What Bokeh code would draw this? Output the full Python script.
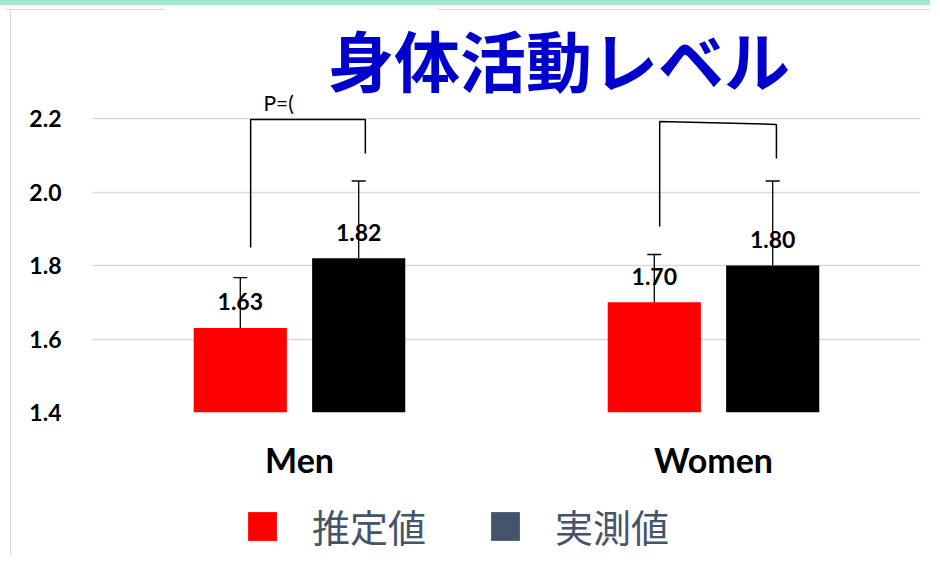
from bokeh.plotting import figure
from bokeh.layouts import column
from bokeh.models import (FactorRange, Range1d, FixedTicker, Whisker, TeeHead, ColumnDataSource,
                          Label, Legend, LegendItem, CustomJSTickFormatter)
from bokeh.transform import dodge
from bokeh.embed import file_html
from bokeh.resources import INLINE
from bokeh.core.properties import value

# ---- data ----
groups = ["Men", "Women"]
series = ["推定値", "実測値"]
estimated = [1.63, 1.70]
estimated_sd = [0.137, 0.13]
measured = [1.82, 1.80]
measured_sd = [0.21, 0.23]
y_ticks = [1.4, 1.6, 1.8, 2.0, 2.2]
title_text = "身体活動レベル"
p_text = "P=("

# bracket annotations (x in category units, y in data units)
br_men_x = [0.382, 0.382, 0.659, 0.659]
br_men_y = [1.849, 2.197, 2.197, 2.105]
br_wom_x = [1.370, 1.370, 1.652, 1.652]
br_wom_y = [1.906, 2.192, 2.184, 2.091]

W, H1, H2 = 930, 495, 61
p = figure(width=W, height=H1, x_range=FactorRange(*groups), y_range=Range1d(1.4, 2.5211),
           output_backend="svg", toolbar_location=None,
           min_border_left=92, min_border_right=10, min_border_top=0, min_border_bottom=83)
p.outline_line_color = None
p.background_fill_color = None
p.border_fill_color = None

OFF = 0.143
BW = 0.225
src = ColumnDataSource(dict(
    g=groups, est=estimated, mea=measured,
    est_hi=[v + s for v, s in zip(estimated, estimated_sd)],
    mea_hi=[v + s for v, s in zip(measured, measured_sd)],
    est_lbl=[f"{v:.2f}" for v in estimated],
    mea_lbl=[f"{v:.2f}" for v in measured],
))

p.vbar(x=dodge("g", -OFF, range=p.x_range), top="est", bottom=1.4, width=BW, source=src,
       fill_color="#FF0000", line_color=None)
p.vbar(x=dodge("g", OFF, range=p.x_range), top="mea", bottom=1.4, width=BW, source=src,
       fill_color="#000000", line_color=None)

for off, lo, hi in [(-OFF, "est", "est_hi"), (OFF, "mea", "mea_hi")]:
    w = Whisker(base=dodge("g", off, range=p.x_range), lower=lo, upper=hi, source=src,
                line_color="black", line_width=1.3,
                upper_head=TeeHead(size=14, line_color="black", line_width=1.3), lower_head=None)
    p.add_layout(w)

lbl_font = value("Lato")
p.text(x=dodge("g", -OFF, range=p.x_range), y="est", text="est_lbl", source=src,
       text_align="center", text_baseline="middle", y_offset=-26,
       text_font=lbl_font, text_font_style="bold", text_font_size="23px", text_color="black")
p.text(x=dodge("g", OFF, range=p.x_range), y="mea", text="mea_lbl", source=src,
       text_align="center", text_baseline="middle", y_offset=-26,
       text_font=lbl_font, text_font_style="bold", text_font_size="23px", text_color="black")

p.line(br_men_x, br_men_y, line_color="black", line_width=1.5)
p.line(br_wom_x, br_wom_y, line_color="black", line_width=1.5)

p.add_layout(Label(x=0.413, y=2.2435, text=p_text, text_font="Lato", text_font_size="21px",
                   text_baseline="middle", text_align="left", text_color="black"))
p.add_layout(Label(x=1.127, y=2.364, text=title_text, text_font="Noto Sans CJK JP",
                   text_font_style="bold", text_font_size="66px", text_color="#0000CC",
                   text_align="center", text_baseline="middle"))

# axes
p.yaxis.ticker = FixedTicker(ticks=y_ticks)
p.yaxis.formatter = CustomJSTickFormatter(code="return tick.toFixed(1);")
p.yaxis.axis_line_color = None
p.yaxis.major_tick_line_color = None
p.yaxis.minor_tick_line_color = None
p.yaxis.major_label_text_font = "Lato"
p.yaxis.major_label_text_font_style = "bold"
p.yaxis.major_label_text_font_size = "23px"
p.yaxis.major_label_text_color = "black"
p.yaxis.major_label_standoff = 25

p.xaxis.axis_line_color = None
p.xaxis.major_tick_line_color = None
p.xaxis.major_label_text_font = "Lato"
p.xaxis.major_label_text_font_style = "bold"
p.xaxis.major_label_text_font_size = "34px"
p.xaxis.major_label_text_color = "black"
p.xaxis.major_label_standoff = 20

p.xgrid.grid_line_color = None
p.ygrid.grid_line_color = "#D9D9D9"
p.ygrid.grid_line_width = 1.5
p.ygrid.ticker = FixedTicker(ticks=y_ticks)

# legend figure (swatch renderers sit outside the visible range)
pl = figure(width=W, height=H2, x_range=Range1d(0, 1), y_range=Range1d(0, 1),
            output_backend="svg", toolbar_location=None,
            x_axis_location=None, y_axis_location=None,
            min_border_left=0, min_border_right=0, min_border_top=0, min_border_bottom=0)
pl.grid.grid_line_color = None
pl.outline_line_color = None
pl.background_fill_color = None
pl.border_fill_color = None
r1 = pl.vbar(x=[-5], top=[-5], bottom=[-6], width=0.1, fill_color="#FF0000", line_color=None)
r2 = pl.vbar(x=[-5], top=[-5], bottom=[-6], width=0.1, fill_color="#44546A", line_color=None)
leg = Legend(items=[LegendItem(label=series[0], renderers=[r1]),
                    LegendItem(label=series[1], renderers=[r2])],
             location=(152, 3), orientation="horizontal",
             glyph_width=36, glyph_height=36, label_standoff=32, spacing=61,
             padding=0, margin=0, border_line_color=None, background_fill_alpha=0,
             label_text_font="Noto Sans CJK JP", label_text_font_size="38px",
             label_text_color="#44546A")
pl.add_layout(leg)

layout = column(p, pl, spacing=0)
layout.styles = {
    "background-color": "white",
    "background-image": ("linear-gradient(#A9E5CB,#A9E5CB), linear-gradient(#D9D9D9,#D9D9D9), "
                         "linear-gradient(#D9D9D9,#D9D9D9), linear-gradient(#D9D9D9,#D9D9D9)"),
    "background-size": "940px 5px, 159px 1px, 502px 1px, 1px 560px",
    "background-position": "0px 0px, 6px 9px, 438px 9px, 10px 9px",
    "background-repeat": "no-repeat",
}

open("out.html", "w").write(file_html(layout, INLINE))
